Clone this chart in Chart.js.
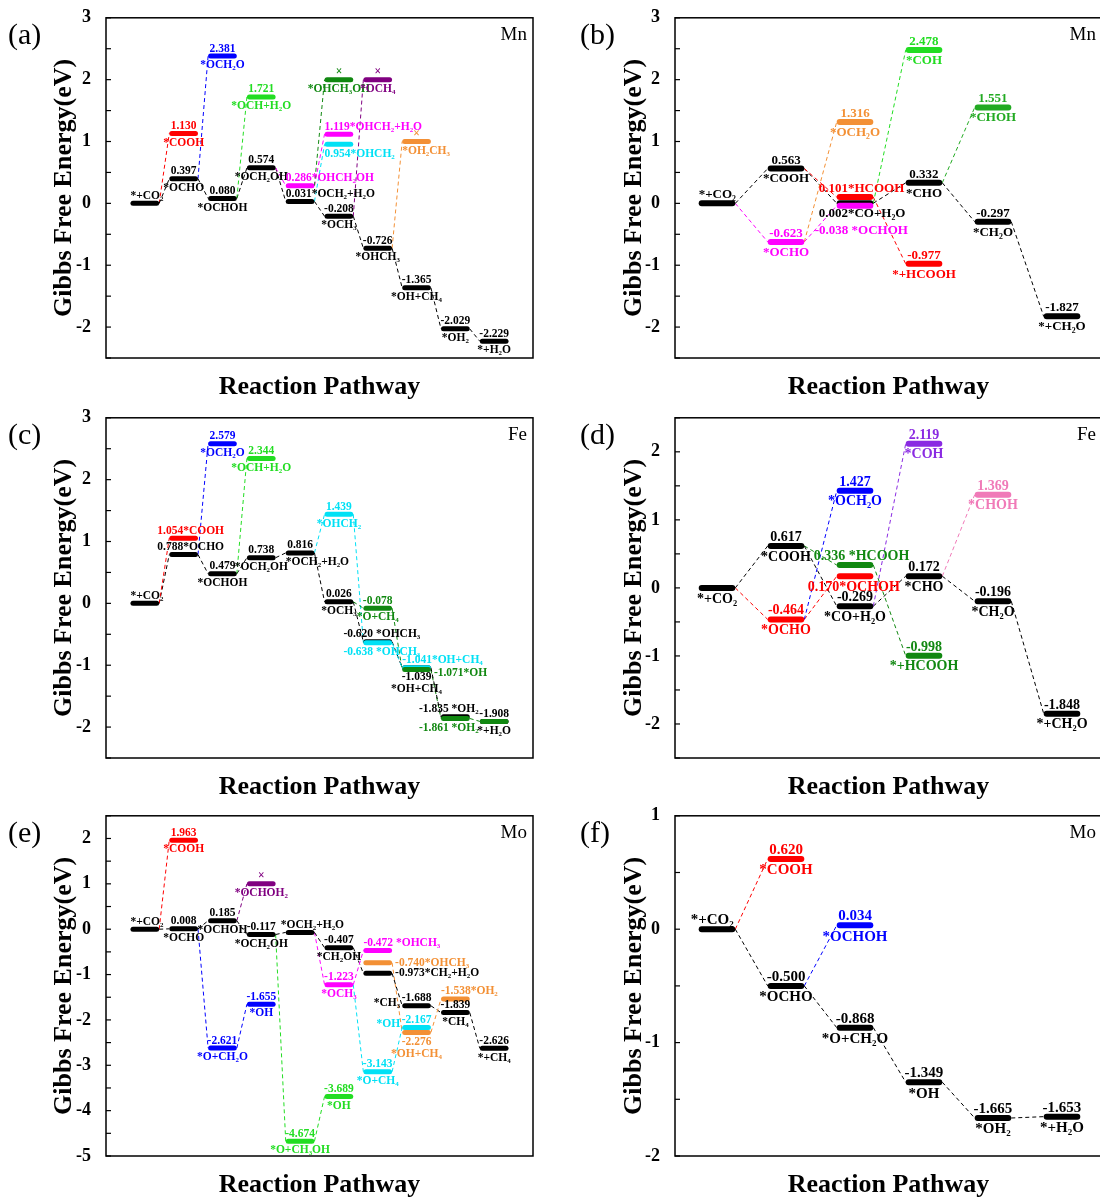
<!DOCTYPE html>
<html>
<head>
<meta charset="utf-8">
<script src="https://cdn.jsdelivr.net/npm/chart.js@4"></script>
<style>
body { margin: 0; background: #fff; width: 1100px; height: 1198px; overflow: hidden; position: relative; }
canvas { position: absolute; }
</style>
</head>
<body>
<canvas id="chart-a" width="550" height="400" style="left:0;top:0"></canvas>
<canvas id="chart-b" width="532" height="400" style="left:570px;top:0"></canvas>
<canvas id="chart-c" width="550" height="400" style="left:0;top:400px"></canvas>
<canvas id="chart-d" width="532" height="400" style="left:570px;top:400px"></canvas>
<canvas id="chart-e" width="550" height="400" style="left:0;top:798px"></canvas>
<canvas id="chart-f" width="532" height="400" style="left:570px;top:798px"></canvas>
<script>
// (a) Mn, CO2 -> CH4 / H2O
const a_steps   = [0, 1, 1, 2, 2, 3, 3, 4, 4, 5, 5, 5, 5, 6, 6, 7, 7, 8, 9];
const a_energy  = [0, 0.397, 1.130, 2.381, 0.080, 1.721, 0.574, 0.286, 0.031, 2.0, 1.119, 0.954, -0.208, 2.0, -0.726, 1.0, -1.365, -2.029, -2.229];
const a_values  = ['', '0.397', '1.130', '2.381', '0.080', '1.721', '0.574', '0.286', '0.031', '×', '1.119', '0.954', '-0.208', '×', '-0.726', '×', '-1.365', '-2.029', '-2.229'];
const a_species = ['*+CO₂', '*OCHO', '*COOH', '*OCH₂O', '*OCHOH', '*OCH+H₂O', '*OCH₂OH', '*OHCH₂OH', '*OCH₂+H₂O', '*OHCH₃OH', '*OHCH₂+H₂O', '*OHCH₂', '*OCH₃', '*OCH₄', '*OHCH₃', '*OH₂CH₃', '*OH+CH₄', '*OH₂', '*+H₂O'];
const a_paths   = ['k', 'k', 'r', 'b', 'k', 'g', 'k', 'm', 'k', 'G', 'm', 'c', 'k', 'p', 'k', 'o', 'k', 'k', 'k'];
const a_links   = [[0,1],[0,2],[1,3],[1,4],[4,5],[4,6],[6,7],[6,8],[7,9],[7,10],[8,11],[8,12],[12,13],[12,14],[14,15],[14,16],[16,17],[17,18]];

// (b) Mn, CO2 -> CH2O / HCOOH
const b_steps   = [0, 1, 1, 2, 2, 2, 2, 3, 3, 3, 4, 4, 5];
const b_energy  = [0, 0.563, -0.623, 1.316, 0.101, 0.002, -0.038, 2.478, 0.332, -0.977, 1.551, -0.297, -1.827];
const b_values  = ['', '0.563', '-0.623', '1.316', '0.101', '0.002', '-0.038', '2.478', '0.332', '-0.977', '1.551', '-0.297', '-1.827'];
const b_species = ['*+CO₂', '*COOH', '*OCHO', '*OCH₂O', '*HCOOH', '*CO+H₂O', ' *OCHOH', '*COH', '*CHO', '*+HCOOH', '*CHOH', '*CH₂O', '*+CH₂O'];
const b_paths   = ['k', 'k', 'm', 'o', 'r', 'k', 'm', 'g', 'k', 'r', 'h', 'k', 'k'];
const b_links   = [[0,1],[0,2],[2,3],[1,4],[1,5],[2,6],[5,7],[5,8],[4,9],[8,10],[8,11],[11,12]];

// (c) Fe, CO2 -> CH4 / H2O
const c_steps   = [0, 1, 1, 2, 2, 3, 3, 4, 5, 5, 6, 6, 6, 7, 7, 7, 8, 8, 9, 9];
const c_energy  = [0, 1.054, 0.788, 2.579, 0.479, 2.344, 0.738, 0.816, 1.439, 0.026, -0.078, -0.620, -0.638, -1.039, -1.041, -1.071, -1.835, -1.861, -1.908, -1.908];
const c_values  = ['', '1.054', '0.788', '2.579', '0.479', '2.344', '0.738', '0.816', '1.439', '0.026', '-0.078', '-0.620', '-0.638', '-1.039', '-1.041', '-1.071', '-1.835', '-1.861', '-1.908', ''];
const c_species = ['*+CO₂', '*COOH', '*OCHO', '*OCH₂O', '*OCHOH', '*OCH+H₂O', '*OCH₂OH', '*OCH₂+H₂O', '*OHCH₂', '*OCH₃', '*O+CH₄', ' *OHCH₃', ' *OHCH₃', '*OH+CH₄', '*OH+CH₄', '*OH', ' *OH₂', ' *OH₂', '*+H₂O', ''];
const c_paths   = ['k', 'r', 'k', 'b', 'k', 'g', 'k', 'k', 'c', 'k', 'G', 'k', 'c', 'k', 'c', 'G', 'k', 'G', 'k', 'G'];
const c_links   = [[0,1],[0,2],[2,3],[2,4],[4,5],[4,6],[6,7],[7,8],[7,9],[9,10],[9,11],[8,12],[12,14],[11,13],[10,15],[13,16],[15,17],[17,19]];

// (d) Fe, CO2 -> CH2O / HCOOH
const d_steps   = [0, 1, 1, 2, 2, 2, 2, 3, 3, 3, 4, 4, 5];
const d_energy  = [0, 0.617, -0.464, 1.427, 0.336, 0.170, -0.269, 2.119, 0.172, -0.998, 1.369, -0.196, -1.848];
const d_values  = ['', '0.617', '-0.464', '1.427', '0.336', '0.170', '-0.269', '2.119', '0.172', '-0.998', '1.369', '-0.196', '-1.848'];
const d_species = ['*+CO₂', '*COOH', '*OCHO', '*OCH₂O', ' *HCOOH', '*OCHOH', '*CO+H₂O', '*COH', '*CHO', '*+HCOOH', '*CHOH', '*CH₂O', '*+CH₂O'];
const d_paths   = ['k', 'k', 'r', 'b', 'G', 'r', 'k', 'v', 'k', 'G', 'q', 'k', 'k'];
const d_links   = [[0,1],[0,2],[2,3],[1,4],[2,5],[1,6],[4,9],[6,7],[6,8],[8,10],[8,11],[11,12]];

// (e) Mo, CO2 -> CH4 / CH3OH
const e_steps   = [0, 1, 1, 2, 2, 3, 3, 3, 4, 4, 5, 5, 5, 6, 6, 6, 6, 7, 7, 7, 8, 8, 9];
const e_energy  = [0, 1.963, 0.008, 0.185, -2.621, 1.0, -0.117, -1.655, -0.07, -4.674, -0.407, -1.223, -3.689, -0.472, -0.740, -0.973, -3.143, -1.688, -2.276, -2.167, -1.538, -1.839, -2.626];
const e_values  = ['', '1.963', '0.008', '0.185', '-2.621', '×', '-0.117', '-1.655', '', '-4.674', '-0.407', '-1.223', '-3.689', '-0.472', '-0.740', '-0.973', '-3.143', '-1.688', '-2.276', '-2.167', '-1.538', '-1.839', '-2.626'];
const e_species = ['*+CO₂', '*COOH', '*OCHO', '*OCHOH', '*O+CH₂O', '*OCHOH₂', '*OCH₂OH', '*OH', '*OCH₂+H₂O', '*O+CH₃OH', '*CH₂OH', '*OCH₃', '*OH', ' *OHCH₃', '*OHCH₃', '*CH₂+H₂O', '*O+CH₄', '*CH₃', '*OH+CH₄', '*OH', '*OH₂', '*CH₄', '*+CH₄'];
const e_paths   = ['k', 'r', 'k', 'k', 'b', 'p', 'k', 'b', 'k', 'g', 'k', 'm', 'g', 'm', 'o', 'k', 'c', 'k', 'o', 'c', 'o', 'k', 'k'];
const e_links   = [[0,1],[0,2],[2,3],[2,4],[3,5],[3,6],[4,7],[6,8],[6,9],[9,12],[8,10],[8,11],[11,13],[10,15],[11,16],[16,19],[15,17],[14,18],[18,20],[17,21],[21,22]];

// (f) Mo, CO2 -> CH2O
const f_steps   = [0, 1, 1, 2, 2, 3, 4, 5];
const f_energy  = [0, 0.620, -0.500, 0.034, -0.868, -1.349, -1.665, -1.653];
const f_values  = ['', '0.620', '-0.500', '0.034', '-0.868', '-1.349', '-1.665', '-1.653'];
const f_species = ['*+CO₂', '*COOH', '*OCHO', '*OCHOH', '*O+CH₂O', '*OH', '*OH₂', '*+H₂O'];
const f_paths   = ['k', 'r', 'k', 'b', 'k', 'k', 'k', 'k'];
const f_links   = [[0,1],[0,2],[2,3],[2,4],[4,5],[5,6],[6,7]];

const path_color = {
    k: '#000000', r: '#ff0000', b: '#0000ff', g: '#22dd22', G: '#118811', h: '#22aa22',
    m: '#ff00ff', c: '#00e1f5', p: '#800080', o: '#f39035', v: '#8a2be2', q: '#f07ab8'
};

// where each level's texts go (default: value above, name below)
const a_text_pos = {0: 'N', 7: 'T', 8: 'T', 10: 'T', 11: 'B', 15: 'l'};
const b_text_pos = {0: 'N', 4: ['T', -18, 0], 5: ['B', -18, 0], 6: ['B', -22, 14]};
const c_text_pos = {0: 'N', 1: ['T', -12, 0], 2: ['T', -12, 0], 7: 'l', 11: ['T', -20, 0], 12: ['B', -20, 0],
                    13: 'V', 14: 'T', 15: ['R', 0, 3], 16: ['T', -22, 0], 17: ['B', -22, 0]};
const d_text_pos = {4: ['T', -23, 0], 5: ['B', -29, 0]};
const e_text_pos = {0: 'N', 8: ['N', -5, 0], 13: 'T', 14: 'R', 15: 'R', 17: 'L', 18: 'V', 19: 'L', 20: 'T'};
const f_text_pos = {0: ['N', -8, 0]};

Chart.defaults.font.family = '"Liberation Serif", "Times New Roman", serif';

function make_datasets(p){
    let sets = [];
    let n = p.energy.length;
    p.energy.forEach((e, i) => {
        sets.push({
            data: [{x: p.steps[i] - p.half, y: e}, {x: p.steps[i] + p.half, y: e}],
            borderColor: path_color[p.paths[i]],
            borderWidth: p.bar,
            borderCapStyle: 'round',
            pointRadius: 0,
            order: n - i
        });
    });
    p.links.forEach(([from, to]) => {
        sets.push({
            data: [{x: p.steps[from] + p.link_half, y: p.energy[from]}, {x: p.steps[to] - p.link_half, y: p.energy[to]}],
            borderColor: path_color[p.paths[to]],
            borderWidth: 1,
            borderDash: [4, 3],
            pointRadius: 0,
            order: n + 5
        });
    });
    return sets;
}

function label_plugin(p){
    return {
        id: 'labels_' + p.letter,
        afterDatasetsDraw(chart){
            const {ctx, chartArea: area, scales: {x, y}} = chart;
            ctx.save();
            // frame + inner ticks
            ctx.strokeStyle = '#000';
            ctx.lineWidth = 1.5;
            ctx.strokeRect(area.left, area.top, area.width, area.height);
            ctx.lineWidth = 1.2;
            for (let v = Math.ceil(y.min * 2) / 2; v <= y.max + 1e-6; v += 0.5) {
                let py = y.getPixelForValue(v);
                ctx.beginPath();
                ctx.moveTo(area.left, py);
                ctx.lineTo(area.left + 5, py);
                ctx.stroke();
            }
            ctx.fillStyle = '#000';
            ctx.textBaseline = 'alphabetic';
            ctx.textAlign = 'left';
            ctx.font = '30px "Liberation Serif"';
            ctx.fillText('(' + p.letter + ')', p.letter_x, area.top + 26);
            ctx.textAlign = 'right';
            ctx.font = '19px "Liberation Serif"';
            ctx.fillText(p.metal, area.right - 6, area.top + 22);

            ctx.font = 'bold ' + p.font + 'px "Liberation Serif"';
            function put(text, tx, ty, align, base){
                if (!text) return;
                ctx.textAlign = align;
                ctx.textBaseline = base;
                ctx.fillText(text, tx, ty);
            }
            p.energy.forEach((e, i) => {
                let pos = p.text_pos[i] || 'c';
                let dx = 0, dy = 0;
                if (Array.isArray(pos)) [pos, dx, dy] = pos;
                let lx = x.getPixelForValue(p.steps[i] - p.half) - p.bar / 2;
                let rx = x.getPixelForValue(p.steps[i] + p.half) + p.bar / 2;
                let cx = (lx + rx) / 2;
                let by = y.getPixelForValue(e);
                let above = by - p.bar / 2 - 2 + dy;
                let below = by + p.bar / 2 + 1 + dy;
                let val = p.values[i], name = p.species[i];
                ctx.fillStyle = path_color[p.paths[i]];
                switch (pos) {
                    case 'N': put(name.trim(), lx + dx, above, 'left', 'alphabetic'); break;
                    case 'T': put(val + name, lx + dx, above, 'left', 'alphabetic'); break;
                    case 'B': put(val + name, lx + dx, below, 'left', 'top'); break;
                    case 'R': put(val + name.trim(), rx + 3, by + dy, 'left', 'middle'); break;
                    case 'L':
                        put(val, cx, above, 'center', 'alphabetic');
                        put(name.trim(), lx - 2, by - 3 + dy, 'right', 'middle');
                        break;
                    case 'V':
                        put(val, cx, below, 'center', 'top');
                        put(name.trim(), cx, below + p.font + 1, 'center', 'top');
                        break;
                    case 'l':
                        put(val, cx, above, 'center', 'alphabetic');
                        put(name.trim(), lx + dx, below, 'left', 'top');
                        break;
                    default:
                        put(val, cx, above, 'center', 'alphabetic');
                        put(name.trim(), cx, below, 'center', 'top');
                }
            });
            ctx.restore();
        }
    };
}

function draw_panel(canvas_id, p){
    let ctx = document.getElementById(canvas_id);
    new Chart(ctx, {
        type: 'line',
        data: {datasets: make_datasets(p)},
        options: {
            responsive: false,
            animation: false,
            layout: {padding: {left: 0, right: p.pad_right, top: p.pad_top, bottom: 0}},
            plugins: {legend: {display: false}, tooltip: {enabled: false}},
            scales: {
                x: {
                    type: 'linear', min: p.x_min, max: p.x_max,
                    grid: {display: false}, border: {display: false}, ticks: {display: false},
                    title: {display: true, text: 'Reaction Pathway', color: '#000',
                            font: {size: 26, weight: 'bold', lineHeight: 1}, padding: {top: 0, bottom: 0}},
                    afterFit: s => { s.height = p.axis_h; }
                },
                y: {
                    type: 'linear', min: p.y_min, max: p.y_max,
                    grid: {display: false}, border: {display: false},
                    ticks: {autoSkip: false, padding: 7, color: '#000',
                            font: {size: 18, weight: 'bold'}},
                    afterBuildTicks: s => {
                        let t = [];
                        for (let v = Math.ceil(p.y_min); v <= Math.floor(p.y_max); v++) t.push({value: v});
                        s.ticks = t;
                    },
                    title: {display: true, text: 'Gibbs Free Energy(eV)', color: '#000',
                            font: {size: 26, weight: 'bold', lineHeight: 1}, padding: {top: 51, bottom: 0}},
                    afterFit: s => { s.width = p.axis_w; }
                }
            }
        },
        plugins: [label_plugin(p)]
    });
}

const left_col  = {x_min: -1, x_max: 10, half: 0.305, link_half: 0.37, bar: 5, axis_w: 106, pad_right: 17, letter_x: 8};
const right_col = {x_min: -0.609, x_max: 5.58, half: 0.222, link_half: 0.265, bar: 6, axis_w: 105, pad_right: 0, letter_x: 10};

function init(){
    draw_panel('chart-a', Object.assign({}, left_col, {
        letter: 'a', metal: 'Mn', font: 11.5, y_min: -2.5, y_max: 3, pad_top: 17, axis_h: 42,
        steps: a_steps, energy: a_energy, values: a_values, species: a_species, paths: a_paths, links: a_links, text_pos: a_text_pos}));
    draw_panel('chart-b', Object.assign({}, right_col, {
        letter: 'b', metal: 'Mn', font: 13, y_min: -2.5, y_max: 3, pad_top: 17, axis_h: 42,
        steps: b_steps, energy: b_energy, values: b_values, species: b_species, paths: b_paths, links: b_links, text_pos: b_text_pos}));
    draw_panel('chart-c', Object.assign({}, left_col, {
        letter: 'c', metal: 'Fe', font: 11.5, y_min: -2.5, y_max: 3, pad_top: 15, axis_h: 42,
        steps: c_steps, energy: c_energy, values: c_values, species: c_species, paths: c_paths, links: c_links, text_pos: c_text_pos}));
    draw_panel('chart-d', Object.assign({}, right_col, {
        letter: 'd', metal: 'Fe', font: 14, y_min: -2.5, y_max: 2.5, pad_top: 15, axis_h: 42,
        steps: d_steps, energy: d_energy, values: d_values, species: d_species, paths: d_paths, links: d_links, text_pos: d_text_pos}));
    draw_panel('chart-e', Object.assign({}, left_col, {
        letter: 'e', metal: 'Mo', font: 11.5, y_min: -5, y_max: 2.5, pad_top: 15, axis_h: 42,
        steps: e_steps, energy: e_energy, values: e_values, species: e_species, paths: e_paths, links: e_links, text_pos: e_text_pos}));
    draw_panel('chart-f', Object.assign({}, right_col, {
        letter: 'f', metal: 'Mo', font: 15, y_min: -2, y_max: 1, pad_top: 15, axis_h: 42,
        steps: f_steps, energy: f_energy, values: f_values, species: f_species, paths: f_paths, links: f_links, text_pos: f_text_pos}));
}

init();
</script>
</body>
</html>
